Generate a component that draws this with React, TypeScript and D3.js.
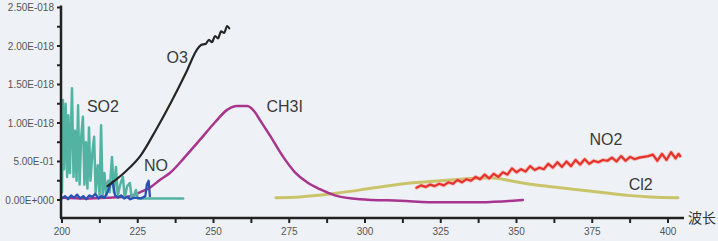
import React, { useEffect, useRef } from 'react';
import * as d3 from 'd3'

type Pt = [number, number]

// wavelength (nm), cross-section (scaled)
const so2: Pt[] = [
  [200.0, 0.10], [200.3, 1.30], [200.7, 0.40], [201.2, 1.25], [201.7, 0.30], [202.1, 1.10],
  [202.6, 0.35], [203.3, 1.45], [203.8, 0.30], [204.3, 0.90], [204.8, 0.25], [205.3, 1.23],
  [205.8, 0.20], [206.3, 0.80], [206.9, 1.08], [207.4, 0.20], [207.9, 0.75], [208.4, 0.15],
  [208.9, 0.94], [209.4, 0.25], [210.0, 0.60], [210.6, 0.82], [211.1, 0.10], [211.8, 0.45],
  [212.4, 0.05], [212.9, 0.97], [213.4, 0.05], [214.0, 0.35], [214.6, 0.05], [215.2, 0.25],
  [215.7, 0.10], [216.5, 0.56], [217.1, 0.10], [217.8, 0.43], [218.4, 0.05], [219.2, 0.20],
  [220.1, 0.30], [220.7, 0.03], [221.5, 0.18], [222.4, 0.22], [223.0, 0.03], [224.0, 0.08],
  [224.4, 0.13], [225.0, 0.02], [240.0, 0.02]
]

const no: Pt[] = [
  [200, 0.02], [201, 0.05], [202, 0.01], [203, 0.06], [204, 0.03], [205, 0.07], [206, 0.02],
  [207, 0.05], [208, 0.01], [209, 0.06], [210, 0.04], [211, 0.08], [212, 0.02], [213, 0.05],
  [214, 0.03], [215, 0.10], [216, 0.20], [216.7, 0.24], [217.5, 0.06], [218.5, 0.03],
  [219.5, 0.06], [220.5, 0.02], [221.5, 0.04], [222.5, 0.01], [224, 0.03], [226, 0.02],
  [227.5, 0.05], [228, 0.20], [228.6, 0.25], [229, 0.05]
]

const o3: Pt[] = [
  [215, 0.18], [221, 0.37], [226, 0.58], [231, 0.91], [236, 1.27], [241, 1.66], [244.5, 1.95],
  [245.8, 2.01], [247.5, 2.03], [248.5, 2.08], [249.5, 2.05], [250.5, 2.13], [251.5, 2.10],
  [252.5, 2.19], [253.5, 2.17], [254.5, 2.26], [255.2, 2.23]
]

const ch3i: Pt[] = [
  [200, 0.03], [208, 0.02], [215, 0.03], [222.4, 0.05], [225.7, 0.10], [229, 0.16], [232.3, 0.26],
  [235.6, 0.35], [240.6, 0.56], [245.5, 0.78], [250.5, 1.01], [254.5, 1.17], [257.8, 1.22],
  [261.1, 1.22], [263.7, 1.14], [265.3, 1.04], [268.6, 0.84], [273, 0.56], [276.9, 0.36],
  [280.9, 0.23], [285.1, 0.14], [290.1, 0.06], [298.3, 0.01], [311.6, -0.01], [324.8, -0.03],
  [338, -0.03], [352.1, 0.0]
]

const cl2: Pt[] = [
  [270.6, 0.03], [278.5, 0.04], [291.1, 0.09], [305, 0.17], [314.9, 0.22], [328, 0.26],
  [341.3, 0.29], [348, 0.25], [355.4, 0.20], [364.4, 0.16], [377.6, 0.10], [386.5, 0.06],
  [394.1, 0.04], [403.3, 0.03]
]

const no2: Pt[] = [
  [317, 0.16], [318.5, 0.19], [320, 0.17], [321.5, 0.20], [323, 0.18], [324.5, 0.21], [326, 0.19],
  [327.5, 0.23], [329, 0.21], [330.5, 0.26], [332, 0.23], [333.5, 0.27], [335, 0.25], [336.5, 0.30],
  [338, 0.27], [339.5, 0.33], [341, 0.28], [342.5, 0.34], [344, 0.30], [345.5, 0.36], [347, 0.33],
  [348.5, 0.41], [350, 0.36], [351.5, 0.40], [353, 0.37], [354.5, 0.44], [356, 0.39], [357.5, 0.42],
  [359, 0.40], [360.5, 0.47], [362, 0.42], [363.5, 0.49], [365, 0.43], [366.5, 0.50], [368, 0.44],
  [369.5, 0.52], [371, 0.46], [372.5, 0.53], [374, 0.47], [375.5, 0.51], [377, 0.49], [378.5, 0.52],
  [380, 0.51], [381.5, 0.55], [383, 0.50], [384.5, 0.57], [386, 0.51], [387.5, 0.56], [389, 0.53],
  [390.5, 0.55], [392, 0.56], [393.5, 0.57], [395, 0.59], [396.5, 0.51], [398, 0.60], [399.5, 0.52],
  [401, 0.62], [402.5, 0.54], [403.5, 0.60], [404, 0.57]
]

const xTicks = [200, 225, 250, 275, 300, 325, 350, 375, 400]
const yTicks = [0, 0.5, 1.0, 1.5, 2.0, 2.5]
const yTickLabels = ['0.00E+000', '5.00E-01', '1.00E-018', '1.50E-018', '2.00E-018', '2.50E-018']

// series label text and anchor point [wavelength, value]
const seriesLabels: { text: string, at: Pt }[] = [
  { text: 'SO2', at: [213.5, 1.14] },
  { text: 'O3', at: [238, 1.78] },
  { text: 'NO', at: [231, 0.38] },
  { text: 'CH3I', at: [273.5, 1.14] },
  { text: 'NO2', at: [379.5, 0.72] },
  { text: 'Cl2', at: [391, 0.13] },
]

const App: React.FC = () => {
  const svgRef = useRef() as React.MutableRefObject<SVGSVGElement>

  useEffect(() => {
    const width = 718
    const height = 241
    const svg = d3.select(svgRef.current)
    svg.html('')

    svg.append('rect').attr('width', width).attr('height', height).attr('fill', '#eef2f6')

    const x = d3.scaleLinear().domain([200, 400]).range([62, 668])
    const y = d3.scaleLinear().domain([0, 2.5]).range([200, 7.5])
    const axisY = 218

    const line = d3.line<Pt>().x(d => x(d[0])).y(d => y(d[1]))
    const smooth = d3.line<Pt>().x(d => x(d[0])).y(d => y(d[1])).curve(d3.curveMonotoneX)

    const draw = (data: Pt[], color: string, w: number, gen: d3.Line<Pt>) =>
      svg.append('path').datum(data)
        .attr('fill', 'none')
        .attr('stroke', color)
        .attr('stroke-width', w)
        .attr('stroke-linejoin', 'round')
        .attr('stroke-linecap', 'round')
        .attr('d', gen)

    draw(cl2, '#c9c46a', 3, smooth)
    draw(ch3i, '#a8348f', 2.5, smooth)
    draw(no2, '#f4a09a', 4, line).attr('opacity', 0.6)
    draw(no2, '#e5322b', 2.2, line)
    draw(so2, '#52b3a3', 2.5, line)
    draw(no, '#2a52b2', 2.3, line)
    draw(o3, '#262626', 2.2, smooth)

    // axes
    const axisColor = '#222'
    svg.append('line')
      .attr('x1', x(200) - 1).attr('x2', x(200) - 1)
      .attr('y1', y(2.5) - 2).attr('y2', axisY)
      .attr('stroke', axisColor).attr('stroke-width', 2.5)
    svg.append('line')
      .attr('x1', x(200) - 2).attr('x2', 684)
      .attr('y1', axisY).attr('y2', axisY)
      .attr('stroke', axisColor).attr('stroke-width', 2.5)

    // y ticks every 0.25
    d3.range(0, 2.51, 0.25).forEach(v => {
      svg.append('line')
        .attr('x1', x(200) - 5).attr('x2', x(200) - 1)
        .attr('y1', y(v)).attr('y2', y(v))
        .attr('stroke', axisColor).attr('stroke-width', 2)
    })
    // x ticks every 12.5
    d3.range(200, 400.1, 12.5).forEach(v => {
      svg.append('line')
        .attr('x1', x(v)).attr('x2', x(v))
        .attr('y1', axisY).attr('y2', axisY + 5)
        .attr('stroke', axisColor).attr('stroke-width', 2)
    })

    svg.append('g').selectAll('text').data(yTicks).join('text')
      .attr('x', 54)
      .attr('y', d => y(d) + 3.5)
      .attr('text-anchor', 'end')
      .attr('font-family', 'Liberation Sans Narrow, Liberation Sans, Arial, sans-serif')
      .attr('font-size', 10)
      .attr('fill', '#555')
      .text((d, i) => yTickLabels[i])

    svg.append('g').selectAll('text').data(xTicks).join('text')
      .attr('x', d => x(d))
      .attr('y', 235)
      .attr('text-anchor', 'middle')
      .attr('font-family', 'Liberation Sans Narrow, Liberation Sans, Arial, sans-serif')
      .attr('font-size', 10)
      .attr('fill', '#555')
      .text(d => d)

    svg.append('text')
      .attr('x', 688).attr('y', 223)
      .attr('font-family', 'Noto Sans CJK SC, sans-serif')
      .attr('font-size', 14)
      .attr('fill', '#333')
      .text('波长')

    svg.append('g').selectAll('text').data(seriesLabels).join('text')
      .attr('x', d => x(d.at[0]))
      .attr('y', d => y(d.at[1]))
      .attr('text-anchor', 'middle')
      .attr('font-family', 'Liberation Sans, Arial, sans-serif')
      .attr('font-size', 16)
      .attr('fill', '#3a3a3a')
      .text(d => d.text)
  }, [])

  return <svg ref={svgRef} width={718} height={241} style={{ position: 'absolute', left: 0, top: 0 }} />
}

export default App
